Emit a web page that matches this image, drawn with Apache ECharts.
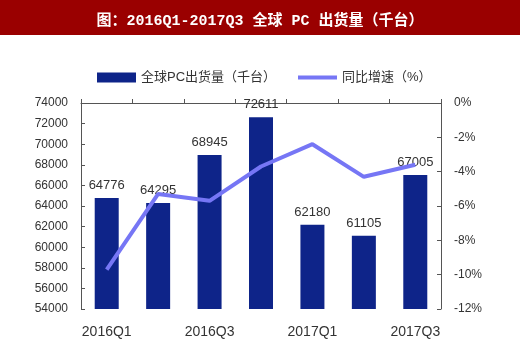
<!DOCTYPE html>
<html>
<head>
<meta charset="utf-8">
<script src="https://cdn.jsdelivr.net/npm/echarts@6.0.0/dist/echarts.min.js"></script>
<style>
  html, body { margin: 0; padding: 0; background: #fff; }
  #chart { width: 520px; height: 354px; }
</style>
</head>
<body>
<div id="chart"></div>
<script>
const quarters = ['2016Q1', '2016Q2', '2016Q3', '2016Q4', '2017Q1', '2017Q2', '2017Q3'];
const shipments = [64776, 64295, 68945, 72611, 62180, 61105, 67005];
const growth = [-9.7, -5.3, -5.7, -3.7, -2.4, -4.3, -3.6];

const TEXT = '#333';
const AXIS = '#555';
const FONT = "'Liberation Sans', Arial, 'Noto Sans CJK SC', sans-serif";

const chart = echarts.init(document.getElementById('chart'), null, { renderer: 'canvas' });

chart.setOption({
  animation: false,
  backgroundColor: '#fff',
  graphic: [{
    type: 'rect',
    left: 0,
    top: 0,
    z: 0,
    shape: { width: 520, height: 35 },
    style: { fill: '#9a0000' }
  }],
  title: {
    text: '图：2016Q1-2017Q3 全球 PC 出货量（千台）',
    left: 'center',
    top: 9,
    z: 10,
    textStyle: {
      color: '#fff',
      fontSize: 15,
      fontWeight: 'bold',
      fontFamily: "'Liberation Mono', 'Noto Sans CJK SC', monospace"
    }
  },
  legend: [{
    data: [{ name: '全球PC出货量（千台）', icon: 'rect' }],
    left: 92,
    top: 66,
    itemWidth: 39,
    itemHeight: 10,
    itemGap: 4,
    textStyle: { color: TEXT, fontSize: 13, fontFamily: FONT }
  }, {
    data: [{ name: '同比增速（%）', icon: 'rect' }],
    left: 293,
    top: 66,
    itemWidth: 39,
    itemHeight: 4,
    textStyle: { color: TEXT, fontSize: 13, fontFamily: FONT }
  }],
  grid: { left: 81, right: 79, top: 103, bottom: 45 },
  xAxis: {
    type: 'category',
    data: quarters,
    boundaryGap: true,
    axisLine: { lineStyle: { color: AXIS, width: 1 } },
    axisTick: { show: true, inside: true, length: 4, interval: 0, lineStyle: { color: AXIS } },
    axisLabel: { interval: 1, color: TEXT, fontSize: 14, margin: 16, fontFamily: FONT },
    splitLine: { show: false }
  },
  yAxis: [{
    type: 'value',
    min: 54000,
    max: 74000,
    interval: 2000,
    axisLine: { show: true, lineStyle: { color: AXIS } },
    axisTick: { show: true, inside: true, length: 4, lineStyle: { color: AXIS } },
    axisLabel: { color: TEXT, fontSize: 12, margin: 13, fontFamily: FONT, formatter: (v) => String(v) },
    splitLine: { show: false }
  }, {
    type: 'value',
    min: -12,
    max: 0,
    interval: 2,
    position: 'right',
    axisLine: { show: true, lineStyle: { color: AXIS } },
    axisTick: { show: true, inside: true, length: 4, lineStyle: { color: AXIS } },
    axisLabel: { color: TEXT, fontSize: 12, margin: 13, fontFamily: FONT, formatter: '{value}%' },
    splitLine: { show: false }
  }],
  series: [{
    name: '全球PC出货量（千台）',
    type: 'bar',
    data: shipments,
    barWidth: 24,
    itemStyle: { color: '#0e2489' },
    label: {
      show: true,
      position: 'top',
      distance: 6,
      color: TEXT,
      fontSize: 13,
      fontFamily: FONT
    }
  }, {
    name: '同比增速（%）',
    type: 'line',
    yAxisIndex: 1,
    data: growth,
    showSymbol: false,
    symbol: 'none',
    lineStyle: { color: '#7676f5', width: 4 },
    itemStyle: { color: '#7676f5' },
    z: 5
  }]
});
</script>
</body>
</html>
